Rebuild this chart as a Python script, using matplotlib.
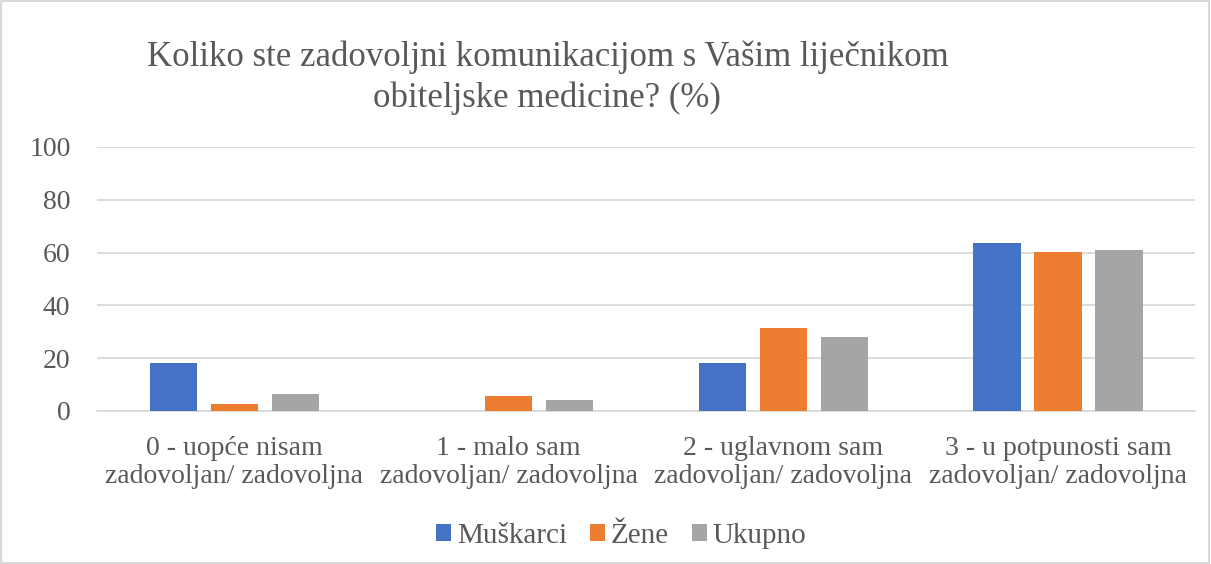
import matplotlib.pyplot as plt
import numpy as np

categories = ["0 - uopće nisam\nzadovoljan/ zadovoljna",
              "1 - malo sam\nzadovoljan/ zadovoljna",
              "2 - uglavnom sam\nzadovoljan/ zadovoljna",
              "3 - u potpunosti sam\nzadovoljan/ zadovoljna"]
muskarci = [18.1, 0, 18.1, 63.7]
zene = [2.8, 5.6, 31.3, 60.1]
ukupno = [6.5, 4.2, 28.1, 60.9]
series = ["Muškarci", "Žene", "Ukupno"]
colors = ["#4472C4", "#ED7D31", "#A5A5A5"]
yticks = [0, 20, 40, 60, 80, 100]

plt.rcParams['font.family'] = ['Liberation Serif', 'DejaVu Serif']
txt = '#595959'

fig = plt.figure(figsize=(12.11, 5.64), dpi=100)
ax = fig.add_axes([0.080, 0.2713, 0.907, 0.4681])

x = np.arange(len(categories))
w = 0.172
off = 0.222
for i, (vals, name) in enumerate(zip([muskarci, zene, ukupno], series)):
    ax.bar(x + (i - 1) * off, vals, w, color=colors[i], label=name, zorder=3)

ax.set_xlim(-0.5, 3.5)
ax.set_ylim(0, 100)
ax.set_yticks(yticks)
ax.set_xticks(x)
ax.set_xticklabels(categories, fontsize=20, color=txt, linespacing=1.15)
ax.tick_params(axis='y', labelsize=20, labelcolor=txt, length=0, pad=19)
ax.tick_params(axis='x', length=0, pad=18)
ax.grid(axis='y', color='#d9d9d9', linewidth=1.3, zorder=0)
for s in ['top', 'right', 'left']:
    ax.spines[s].set_visible(False)
ax.spines['bottom'].set_color('#d9d9d9')
ax.spines['bottom'].set_linewidth(1.3)

fig.text(0.452, 0.862, "Koliko ste zadovoljni komunikacijom s Vašim liječnikom\nobiteljske medicine? (%)",
         ha='center', va='center', fontsize=25, color=txt, linespacing=1.3)

fig.legend(loc='center', bbox_to_anchor=(0.513, 0.05), ncol=3, frameon=False,
           fontsize=21, labelcolor=txt, handlelength=0.5, handleheight=0.5,
           handletextpad=0.2, columnspacing=0.8)

fig.patches.append(plt.Rectangle((0.001, 0.002), 0.997, 0.996, transform=fig.transFigure,
                                 fill=False, edgecolor='#d9d9d9', linewidth=1.5))

fig.savefig('out.png', dpi=100)
